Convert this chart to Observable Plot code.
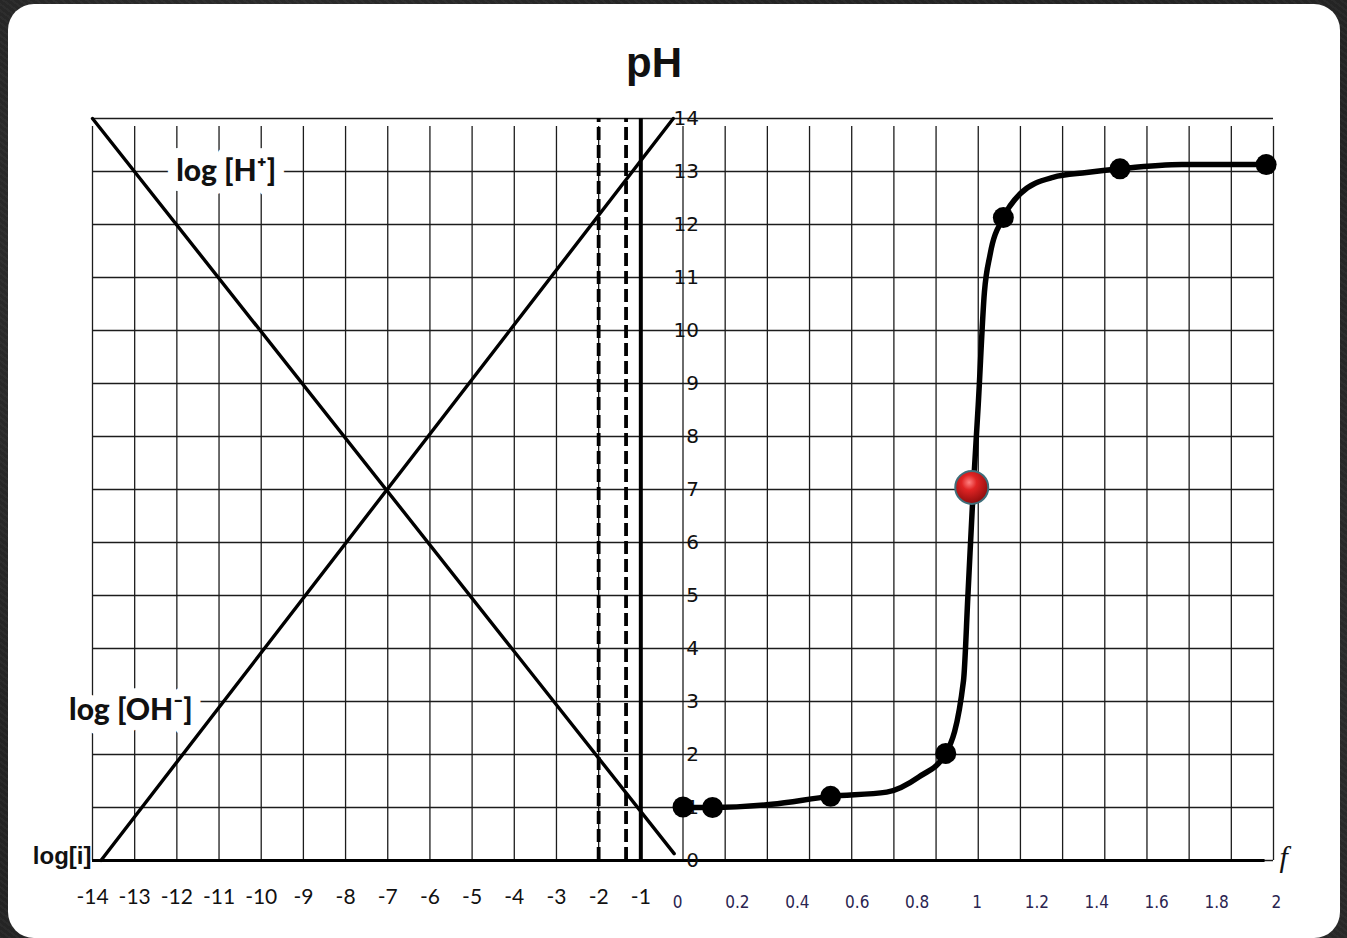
<!DOCTYPE html>
<html>
<head>
<meta charset="utf-8">
<script src="https://cdn.jsdelivr.net/npm/d3@7"></script>
<script src="https://cdn.jsdelivr.net/npm/@observablehq/plot@0.6"></script>
<style>
  html, body { margin: 0; padding: 0; }
  #bg {
    position: relative; width: 1347px; height: 938px; overflow: hidden;
    background: #242424;
    background-image:
      radial-gradient(circle at 20% 30%, rgba(255,255,255,0.06), transparent 40%),
      radial-gradient(circle at 80% 70%, rgba(255,255,255,0.05), transparent 45%),
      repeating-linear-gradient(37deg, rgba(255,255,255,0.03) 0 2px, transparent 2px 5px);
  }
  #panel {
    position: absolute; left: 8px; top: 4px; width: 1332px; height: 934px;
    background: #fff; border-radius: 26px;
  }
  #title {
    position: absolute; left: 0; top: 42px; width: 1308px; text-align: center;
    font: bold 42px "Liberation Sans", Arial, sans-serif; line-height: 42px; color: #111;
  }
  #chart { position: absolute; left: 0; top: 100px; }
</style>
</head>
<body>
<div id="bg">
  <div id="panel"></div>
  <div id="title">pH</div>
  <div id="chart"></div>
</div>
<script>
// ---- Data ----
// Left panel: x = log[i], y = pH
const logTicks = [-14, -13, -12, -11, -10, -9, -8, -7, -6, -5, -4, -3, -2, -1];
const pHTicks = [0, 1, 2, 3, 4, 5, 6, 7, 8, 9, 10, 11, 12, 13, 14];
const gridX = [-14, -13, -12, -11, -10, -9, -8, -7, -6, -5, -4, -3, -2, -1, 0,
               1, 2, 3, 4, 5, 6, 7, 8, 9, 10, 11, 12, 13, 14];

// log[H+] line (descending) and log[OH-] line (ascending): endpoints
const logHx = [-14, -0.21];
const logHy = [14, 0.13];
const logOHx = [-13.8, -0.23];
const logOHy = [0, 14];

// vertical reference lines
const dashedX = [-2, -1.35];
const solidX = [-1];

// series labels
const seriesNames = ["log [H\u207A]", "log [OH\u207B]"];
const seriesLabelX = [-10.83, -13.09];
const seriesLabelY = [13.0, 2.84];

// Right panel: x = f (0..2), y = pH (titration curve)
const fTicks = [0, 0.2, 0.4, 0.6, 0.8, 1, 1.2, 1.4, 1.6, 1.8, 2];
const curveF  = [0, 0.1, 0.3, 0.5, 0.69, 0.8, 0.89, 0.95, 0.965, 0.983, 1.0, 1.021, 1.04, 1.085, 1.142, 1.253, 1.367, 1.48, 1.69, 1.975];
const curvePH = [1.0, 1.0, 1.06, 1.21, 1.29, 1.58, 2.02, 3.39, 5.0, 7.0, 8.6, 10.73, 11.43, 12.13, 12.58, 12.89, 12.98, 13.05, 13.13, 13.13];
const dotF  = [0, 0.1, 0.5, 0.89, 1.085, 1.48, 1.975];
const dotPH = [1.01, 1.0, 1.21, 2.02, 12.13, 13.05, 13.13];
const eqF  = [0.978];
const eqPH = [7.04];

// ---- Build tables ----
const fToX = f => f * 7;            // f range 0..2 occupies 14 grid columns
const fLabelX = f => f * 7.1 - 0.13; // labels in picture are slightly stretched
const lineH = logHx.map((x, i) => ({x, y: logHy[i]}));
const lineOH = logOHx.map((x, i) => ({x, y: logOHy[i]}));
const seriesLabels = seriesNames.map((name, i) => ({name, x: seriesLabelX[i], y: seriesLabelY[i]}));
const curve = curveF.map((f, i) => ({x: fToX(f), y: curvePH[i]}));
const dots = dotF.map((f, i) => ({x: fToX(f), y: dotPH[i]}));
const eq = eqF.map((f, i) => ({x: fToX(f), y: eqPH[i]}));

const gridColor = "#1c1c1c";

const chart = Plot.plot({
  width: 1347, height: 838,
  marginLeft: 92, marginRight: 74, marginTop: 18, marginBottom: 78,
  x: {domain: [-14, 14], axis: null},
  y: {domain: [0, 14], axis: null},
  style: {background: "transparent", overflow: "visible"},
  marks: [
    // grid
    Plot.ruleX(gridX, {x: d => d, y1: 0, y2: 14, insetBottom: -8, stroke: gridColor, strokeWidth: 1.3}),
    Plot.ruleY(pHTicks, {y: d => d, x1: -14, x2: 14, stroke: gridColor, strokeWidth: 1.3}),
    // x axis line
    Plot.ruleY([0], {y: d => d, x1: -14, x2: 13.8, stroke: "#000", strokeWidth: 2.8}),
    // series labels with white boxes
    Plot.text(seriesLabels, {x: "x", y: "y", text: "name", fontSize: 30, fontWeight: 900,
      fontFamily: "Lato, 'Open Sans', sans-serif", fill: "#111", stroke: "white", strokeWidth: 20}),
    // reference verticals
    Plot.ruleX(dashedX, {x: d => d, y1: 0, y2: 14, stroke: "#000", strokeWidth: 3.8, strokeDasharray: "13,5"}),
    Plot.ruleX(solidX, {x: d => d, y1: 0, y2: 14, stroke: "#000", strokeWidth: 4}),
    // log lines
    Plot.line(lineH, {x: "x", y: "y", stroke: "#000", strokeWidth: 3.4}),
    Plot.line(lineOH, {x: "x", y: "y", stroke: "#000", strokeWidth: 3.4}),
    // y tick labels on the x=0 line
    Plot.text(pHTicks, {x: 0, y: d => d, text: d => String(d), textAnchor: "end", dx: 16,
      fontSize: 20, fontFamily: "'DejaVu Sans', Lato, sans-serif", fill: "#111"}),
    // left x tick labels
    Plot.text(logTicks, {x: d => d, y: 0, text: d => String(d), dy: 37,
      fontSize: 21, fontFamily: "Lato, 'Open Sans', sans-serif", fill: "#111"}),
    // right x tick labels (f)
    Plot.text(fTicks, {x: fLabelX, y: 0, text: d => String(d), dy: 42,
      fontSize: 17, fontFamily: "'Liberation Sans Narrow', 'DejaVu Sans Condensed', 'Arial Narrow', sans-serif",
      fill: "#2a2450"}),
    // axis names
    Plot.text(["log[i]"], {x: -14, y: 0, text: d => d, textAnchor: "end", dx: -1, dy: -4,
      fontSize: 24, fontWeight: "bold", fontFamily: "'Liberation Sans', Arial, sans-serif", fill: "#111"}),
    Plot.text(["f"], {x: 14, y: 0, text: d => d, textAnchor: "start", dx: 6, dy: -3,
      fontSize: 30, fontStyle: "italic", fontFamily: "'Liberation Serif', 'DejaVu Serif', serif", fill: "#111"}),
    // titration curve
    Plot.line(curve, {x: "x", y: "y", curve: "monotone-x", stroke: "#000", strokeWidth: 5.5}),
    Plot.dot(dots, {x: "x", y: "y", r: 10.5, fill: "#000", stroke: "none"}),
    Plot.dot(eq, {x: "x", y: "y", r: 16.5, fill: "url(#redBall)", stroke: "#3f6e7a", strokeWidth: 2})
  ]
});

// radial gradient for the equivalence point ball
const svg = d3.select(chart);
const defs = svg.insert("defs", ":first-child");
const grad = defs.append("radialGradient").attr("id", "redBall")
  .attr("cx", "42%").attr("cy", "35%").attr("r", "65%");
grad.append("stop").attr("offset", "0%").attr("stop-color", "#ff8080");
grad.append("stop").attr("offset", "35%").attr("stop-color", "#e02424");
grad.append("stop").attr("offset", "100%").attr("stop-color", "#8e0d0d");

document.getElementById("chart").appendChild(chart);
</script>
</body>
</html>
